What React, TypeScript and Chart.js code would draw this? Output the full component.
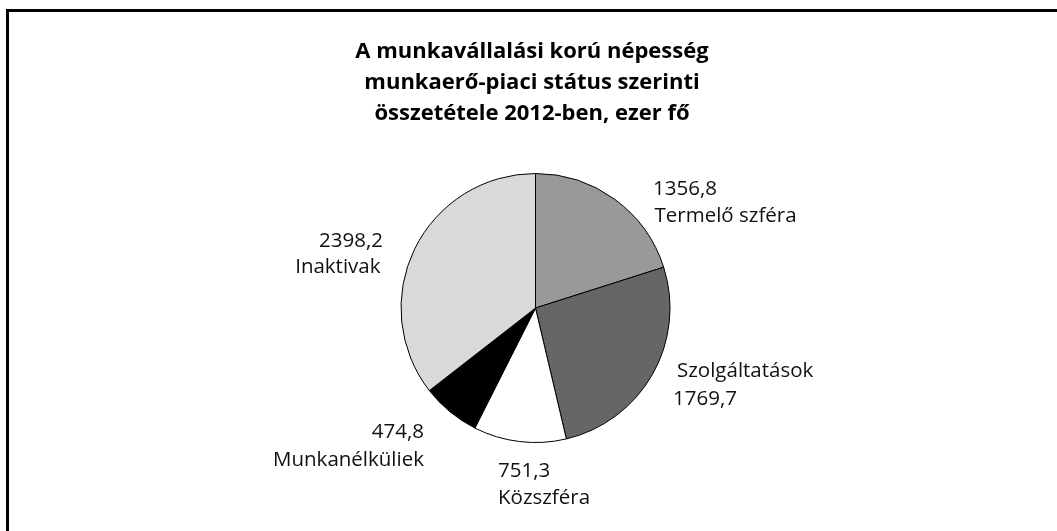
import React, { useEffect, useRef } from "react";
import { Chart, registerables } from "chart.js";

Chart.register(...registerables);

const titleLines = [
  "A munkavállalási korú népesség",
  "munkaerő-piaci státus szerinti",
  "összetétele 2012-ben, ezer fő",
];
const categories = ["Termelő szféra", "Szolgáltatások", "Közszféra", "Munkanélküliek", "Inaktivak"];
const values = [1356.8, 1769.7, 751.3, 474.8, 2398.2];
const sliceColors = ["#999999", "#666666", "#ffffff", "#000000", "#d9d9d9"];

const formatValue = (v: number) => v.toFixed(1).replace(".", ",");

// label layout relative to the pie centre (style only)
type LineSpec = { kind: "value" | "name"; dx: number; dy: number };
const labelLayout: { align: CanvasTextAlign; lines: LineSpec[] }[] = [
  { align: "left", lines: [{ kind: "value", dx: 117.5, dy: -113 }, { kind: "name", dx: 119, dy: -86 }] },
  { align: "left", lines: [{ kind: "name", dx: 141.5, dy: 69 }, { kind: "value", dx: 137.5, dy: 97 }] },
  { align: "left", lines: [{ kind: "value", dx: -37.5, dy: 169 }, { kind: "name", dx: -37.5, dy: 196 }] },
  { align: "right", lines: [{ kind: "value", dx: -111.5, dy: 130 }, { kind: "name", dx: -111.5, dy: 158 }] },
  { align: "right", lines: [{ kind: "value", dx: -152.5, dy: -61 }, { kind: "name", dx: -155, dy: -35 }] },
];

const FONT = '"Open Sans", "Noto Sans", sans-serif';

const decorPlugin = {
  id: "decor",
  beforeDraw(chart: any) {
    const ctx = chart.ctx as CanvasRenderingContext2D;
    ctx.save();
    ctx.fillStyle = "#ffffff";
    ctx.fillRect(0, 0, chart.width, chart.height);
    ctx.fillStyle = "#000000";
    ctx.fillRect(6, 9, 3, chart.height);
    ctx.fillRect(6, 9, chart.width, 3);
    ctx.font = `bold 22px ${FONT}`;
    ctx.textAlign = "center";
    ctx.textBaseline = "alphabetic";
    titleLines.forEach((t, i) => ctx.fillText(t, 532, 58 + i * 31));
    ctx.restore();
  },
  afterDatasetsDraw(chart: any) {
    const ctx = chart.ctx as CanvasRenderingContext2D;
    const meta = chart.getDatasetMeta(0);
    ctx.save();
    ctx.fillStyle = "#111111";
    ctx.font = `20.5px ${FONT}`;
    ctx.textBaseline = "alphabetic";
    meta.data.forEach((arc: any, i: number) => {
      const cx = arc.x;
      const cy = arc.y;
      const layout = labelLayout[i];
      ctx.textAlign = layout.align;
      layout.lines.forEach((ln) => {
        const text = ln.kind === "value" ? formatValue(values[i]) : categories[i];
        ctx.fillText(text, cx + ln.dx, cy + ln.dy);
      });
    });
    ctx.restore();
  },
};

export default function App() {
  const ref = useRef<HTMLCanvasElement | null>(null);
  useEffect(() => {
    if (!ref.current) return;
    const chart = new Chart(ref.current, {
      type: "pie",
      data: {
        labels: categories,
        datasets: [
          {
            data: values,
            backgroundColor: sliceColors,
            borderColor: "#000000",
            borderWidth: 1,
            radius: 134.5,
          } as any,
        ],
      },
      options: {
        responsive: false,
        animation: false,
        events: [],
        layout: { padding: { left: 14, right: 0, top: 170, bottom: 85 } },
        plugins: {
          legend: { display: false },
          title: { display: false },
          tooltip: { enabled: false },
        },
      },
      plugins: [decorPlugin],
    });
    return () => chart.destroy();
  }, []);
  return (
    <div style={{ position: "fixed", left: 0, top: 0, width: 1057, height: 531, overflow: "hidden", background: "#fff" }}>
      <canvas ref={ref} width={1057} height={531} style={{ display: "block", width: 1057, height: 531 }} />
    </div>
  );
}
